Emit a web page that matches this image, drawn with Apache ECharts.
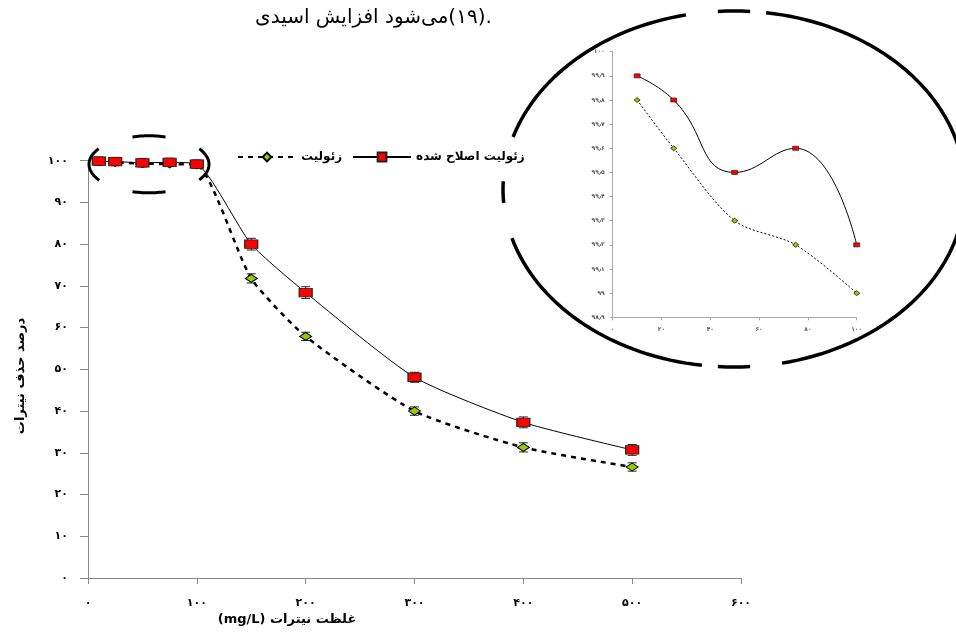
<!DOCTYPE html>
<html><head><meta charset="utf-8">
<script src="https://cdn.jsdelivr.net/npm/echarts@6/dist/echarts.min.js"></script>
<style>html,body{margin:0;padding:0;background:#fff}#c{width:956px;height:632px}</style>
</head><body><div id="c"></div>
<script>
// ---- data ----
const concentrations = [10, 25, 50, 75, 100, 150, 200, 300, 400, 500];
const modifiedZeolite = [99.9, 99.8, 99.5, 99.6, 99.2, 80.0, 68.4, 48.1, 37.3, 30.7];
const modifiedErr = [1.0, 1.0, 1.0, 1.0, 1.0, 1.4, 1.4, 1.2, 1.3, 1.3];
const zeolite = [99.8, 99.6, 99.3, 99.2, 99.0, 71.8, 57.9, 40.0, 31.3, 26.6];
const zeoliteErr = [0.5, 0.5, 0.5, 0.5, 0.5, 1.1, 1.0, 1.0, 1.1, 1.0];
const insetX = [10, 25, 50, 75, 100];
const insetModified = [99.9, 99.8, 99.5, 99.6, 99.2];
const insetZeolite = [99.8, 99.6, 99.3, 99.2, 99.0];
const nameModified = 'زئولیت اصلاح شده';
const nameZeolite = 'زئولیت';
const xTitle = '\u202Bغلظت نیترات (mg/L)\u202C';
const yTitle = 'درصد حذف نیترات';
const headerWords = ['اسیدی', 'افزایش', 'می‌شود'];
const headerRef = '(۱۹).';

const fa = v => String(v).replace(/\d/g, d => '۰۱۲۳۴۵۶۷۸۹'[+d]).replace('.', '٫');
const pairs = (xs, ys) => xs.map((x, i) => [x, ys[i]]);
const errData = (xs, ys, es) => xs.map((x, i) => [x, ys[i] - es[i], ys[i] + es[i]]);

function arcPts(cx, cy, rx, ry, a0, a1) {
  const pts = [];
  const n = Math.max(4, Math.ceil(Math.abs(a1 - a0) / 2));
  for (let i = 0; i <= n; i++) {
    const t = (a0 + (a1 - a0) * i / n) * Math.PI / 180;
    pts.push([cx + rx * Math.cos(t), cy + ry * Math.sin(t)]);
  }
  return pts;
}
function arcEl(cx, cy, rx, ry, a0, a1, w) {
  return { type: 'polyline', z: 100, shape: { points: arcPts(cx, cy, rx, ry, a0, a1) },
    style: { stroke: '#000', lineWidth: w, fill: null, lineCap: 'butt' } };
}

const chart = echarts.init(document.getElementById('c'), null, { renderer: 'canvas' });

const errRender = (capW, color) => function (params, api) {
  const x = api.value(0);
  const lo = api.coord([x, api.value(1)]);
  const hi = api.coord([x, api.value(2)]);
  const st = { stroke: color, lineWidth: 1 };
  return { type: 'group', children: [
    { type: 'line', shape: { x1: lo[0], y1: lo[1], x2: hi[0], y2: hi[1] }, style: st },
    { type: 'line', shape: { x1: lo[0] - capW / 2, y1: lo[1], x2: lo[0] + capW / 2, y2: lo[1] }, style: st },
    { type: 'line', shape: { x1: hi[0] - capW / 2, y1: hi[1], x2: hi[0] + capW / 2, y2: hi[1] }, style: st }
  ]};
};

const axisLbl = { fontFamily: 'DejaVu Sans', fontWeight: 'bold', fontSize: 11, color: '#000' };
const insetLbl = { fontFamily: 'DejaVu Sans', fontWeight: 'bold', fontSize: 6, color: '#555' };

const headerRich = headerWords.map(w => '{w|' + w + '}').join('{w| }') + '{w|' + headerRef + '}';

const option = {
  backgroundColor: '#fff',
  animation: false,
  textStyle: { fontFamily: 'DejaVu Sans' },
  legend: {
    left: 232, top: 146, itemGap: 10, itemWidth: 58, itemHeight: 11,
    data: [nameZeolite, nameModified],
    textStyle: { fontFamily: 'DejaVu Sans', fontWeight: 'bold', fontSize: 12, color: '#000' }
  },
  grid: [
    { left: 88, right: 215, top: 160.7, bottom: 54, containLabel: false },
    { left: 612.7, right: 99.3, top: 51.7, bottom: 314.7, containLabel: false }
  ],
  xAxis: [
    { gridIndex: 0, type: 'value', min: 0, max: 600, interval: 100,
      axisLine: { lineStyle: { color: '#888', width: 1 } },
      axisTick: { show: true, inside: false, length: 6, lineStyle: { color: '#888' } },
      splitLine: { show: false },
      axisLabel: Object.assign({ margin: 20, formatter: v => fa(v) }, axisLbl) },
    { gridIndex: 1, type: 'value', min: 0, max: 100, interval: 20,
      axisLine: { lineStyle: { color: '#aaa', width: 1 } },
      axisTick: { show: true, length: 3, lineStyle: { color: '#aaa' } },
      splitLine: { show: false },
      axisLabel: Object.assign({ margin: 9, formatter: v => fa(v) }, insetLbl) }
  ],
  yAxis: [
    { gridIndex: 0, type: 'value', min: 0, max: 100, interval: 10,
      axisLine: { show: true, lineStyle: { color: '#888', width: 1 } },
      axisTick: { show: true, length: 8, lineStyle: { color: '#888' } },
      splitLine: { show: false },
      axisLabel: Object.assign({ margin: 20, formatter: v => fa(v) }, axisLbl) },
    { gridIndex: 1, type: 'value', min: 98.9, max: 100, interval: 0.1,
      axisLine: { show: true, lineStyle: { color: '#aaa', width: 1 } },
      axisTick: { show: true, length: 3, lineStyle: { color: '#aaa' } },
      splitLine: { show: false },
      axisLabel: Object.assign({ margin: 8, formatter: v => fa(Math.round(v * 10) / 10) }, insetLbl) }
  ],
  series: [
    { type: 'custom', name: 'errZ', xAxisIndex: 0, yAxisIndex: 0, z: 1, silent: true,
      renderItem: errRender(9, '#222'), data: errData(concentrations, zeolite, zeoliteErr) },
    { type: 'custom', name: 'errM', xAxisIndex: 0, yAxisIndex: 0, z: 1, silent: true,
      renderItem: errRender(9, '#222'), data: errData(concentrations, modifiedZeolite, modifiedErr) },
    { type: 'line', name: nameZeolite, xAxisIndex: 0, yAxisIndex: 0, z: 3,
      data: pairs(concentrations, zeolite), smooth: 0.2,
      symbol: 'diamond', symbolSize: [12, 8],
      lineStyle: { color: '#000', width: 2.5, type: [5, 5] },
      itemStyle: { color: '#99cc00', borderColor: '#000', borderWidth: 1 } },
    { type: 'line', name: nameModified, xAxisIndex: 0, yAxisIndex: 0, z: 4,
      data: pairs(concentrations, modifiedZeolite), smooth: 0.2,
      symbol: 'rect', symbolSize: [13, 8.5],
      lineStyle: { color: '#000', width: 1 },
      itemStyle: { color: '#ff0000', borderColor: '#222', borderWidth: 1 } },
    { type: 'line', name: 'insetZ', xAxisIndex: 1, yAxisIndex: 1, z: 3,
      data: pairs(insetX, insetZeolite), smooth: 0.3,
      symbol: 'diamond', symbolSize: [6, 5],
      lineStyle: { color: '#000', width: 1, type: [2, 2] },
      itemStyle: { color: '#99cc00', borderColor: '#000', borderWidth: 0.7 } },
    { type: 'line', name: 'insetM', xAxisIndex: 1, yAxisIndex: 1, z: 4,
      data: pairs(insetX, insetModified), smooth: 0.5,
      symbol: 'rect', symbolSize: [6, 4],
      lineStyle: { color: '#000', width: 1 },
      itemStyle: { color: '#ff0000', borderColor: '#222', borderWidth: 0.7 } }
  ],
  graphic: [
    { type: 'text', left: 255, top: 8, z: 50,
      style: { text: headerRich, fill: '#000',
        rich: { w: { fontFamily: 'DejaVu Sans', fontSize: 20, fill: '#000' } } } },
    { type: 'text', x: 21, y: 376, rotation: Math.PI / 2, z: 50,
      style: { text: yTitle, font: 'bold 13px "DejaVu Sans"', fill: '#000', align: 'center', verticalAlign: 'middle' } },
    { type: 'text', x: 287, y: 620, z: 50,
      style: { text: xTitle, font: 'bold 13px "DejaVu Sans"', fill: '#000', align: 'center', verticalAlign: 'middle' } },
    // small dashed ellipse around low concentrations
    arcEl(149, 164.3, 60, 28.5, 146, 213, 3),
    arcEl(149, 164.3, 60, 28.5, 254, 286, 3),
    arcEl(149, 164.3, 60, 28.5, -33, 33, 3),
    arcEl(149, 164.3, 60, 28.5, 74, 106, 3),
    // large dashed ellipse around the inset
    arcEl(734, 189, 231, 178, 197, 258, 3.5),
    arcEl(734, 189, 231, 178, 266, 274, 3.5),
    arcEl(734, 189, 231, 178, 278, 438, 3.5),
    arcEl(734, 189, 231, 178, 86, 94, 3.5),
    arcEl(734, 189, 231, 178, 98, 164, 3.5),
    arcEl(734, 189, 231, 178, 175.5, 182.5, 3.5)
  ]
};
chart.setOption(option);
</script></body></html>
